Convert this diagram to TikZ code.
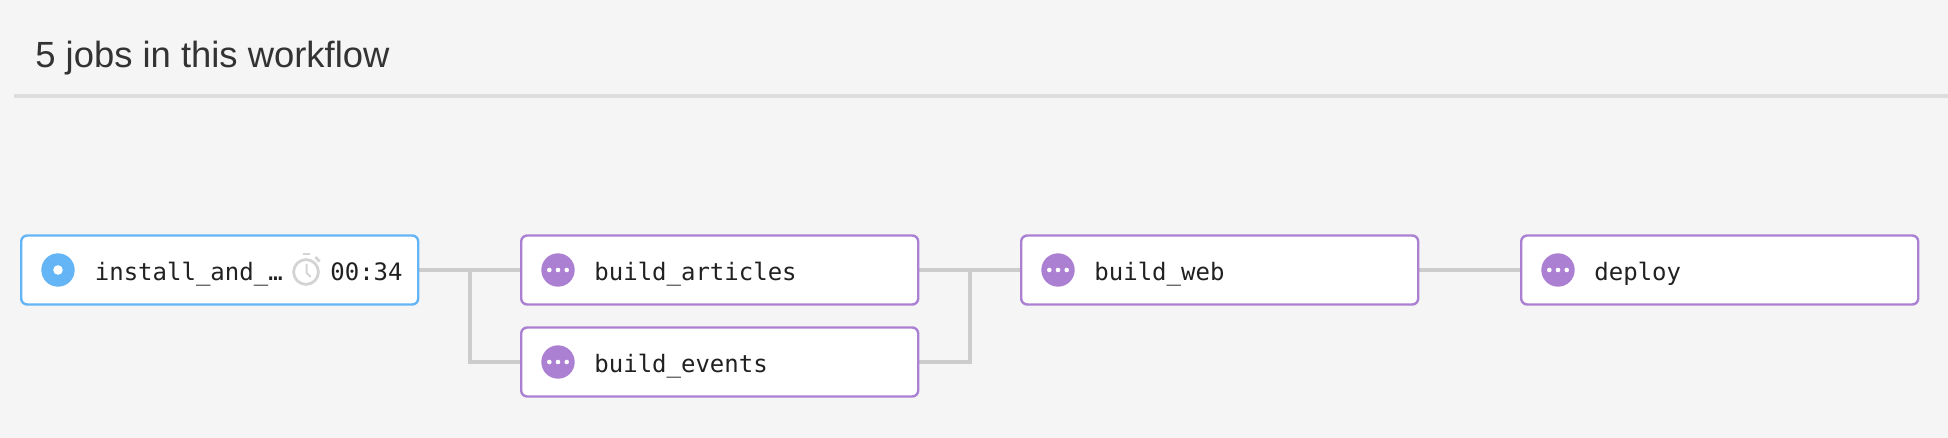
\documentclass[tikz,border=0pt]{standalone}
\usetikzlibrary{backgrounds}
\usepackage{fontspec}
\setmainfont{Liberation Sans}
\setmonofont{DejaVu Sans Mono}
\definecolor{pagebg}{HTML}{F5F5F5}
\definecolor{rulegray}{HTML}{DDDDDD}
\definecolor{linkgray}{HTML}{CCCCCC}
\definecolor{runblue}{HTML}{64B5F6}
\definecolor{waitpurple}{HTML}{AB80D3}
\definecolor{inktext}{HTML}{212121}
\definecolor{titletext}{HTML}{333333}
\definecolor{watchgray}{HTML}{D4D4D4}
\tikzset{
  jobbox/.style={rectangle,rounded corners=3pt,fill=white,line width=1.2pt,minimum width=198.5pt,minimum height=34.5pt,inner sep=0pt,outer sep=0pt},
  runjob/.style={jobbox,draw=runblue},
  waitjob/.style={jobbox,draw=waitpurple},
  link/.style={draw=linkgray,line width=2.2pt},
  jobtext/.style={font=\ttfamily\fontsize{12}{14}\selectfont,text=inktext,anchor=base west,inner sep=0pt},
  watchline/.style={draw=watchgray,line width=1.4pt},
}
\begin{document}
\begin{tikzpicture}[x=0.5pt,y=-0.5pt]
\useasboundingbox (0,0) rectangle (1948,438);
\node[anchor=base west,inner sep=0pt,text=titletext,font=\fontsize{18.2}{21}\selectfont] (title) at (35,68) {5 jobs in this workflow};
\fill[rulegray] (14,94) rectangle (1948,98);
\coordinate (forkA) at (470,270);
\coordinate (forkB) at (970,270);
\node[runjob] (install) at (219.7,270) {};
\node[waitjob] (articles) at (719.7,270) {};
\node[waitjob] (events) at (719.7,362) {};
\node[waitjob] (web) at (1219.7,270) {};
\node[waitjob] (deploy) at (1719.7,270) {};
\begin{pgfonlayer}{background}
\fill[pagebg] (0,0) rectangle (1948,438);
\draw[link] (install.east) -- (articles.west);
\draw[link] (forkA) |- (events.west);
\draw[link] (articles.east) -- (web.west);
\draw[link] (forkB) |- (events.east);
\draw[link] (web.east) -- (deploy.west);
\end{pgfonlayer}
% icons
\fill[runblue] (58,270) circle (8.35pt);
\fill[white] (58,270) circle (2.4pt);
\foreach \cx/\cy in {558/270,558/362,1058/270,1558/270}{
  \fill[waitpurple] (\cx,\cy) circle (8.35pt);
  \foreach \d in {-8.7,0,8.7}{\fill[white] (\cx+\d,\cy) circle (1.15pt);}
}
% stopwatch
\draw[watchline] (306,272) circle (6.2pt);
\draw[watchline] (302.5,254) -- (309.5,254);
\draw[watchline] (315.5,257) -- (319.5,261.5);
\draw[watchline,line width=1pt] (306.7,264) -- (306.7,273) -- (310.7,277);
% labels
\node[jobtext] (t1) at (94.5,280) {install\_and\_…};
\node[jobtext] (t1b) at (330,280) {00:34};
\node[jobtext] (t2) at (594,280) {build\_articles};
\node[jobtext] (t3) at (594,372) {build\_events};
\node[jobtext] (t4) at (1094,280) {build\_web};
\node[jobtext] (t5) at (1594,280) {deploy};
\end{tikzpicture}
\end{document}
